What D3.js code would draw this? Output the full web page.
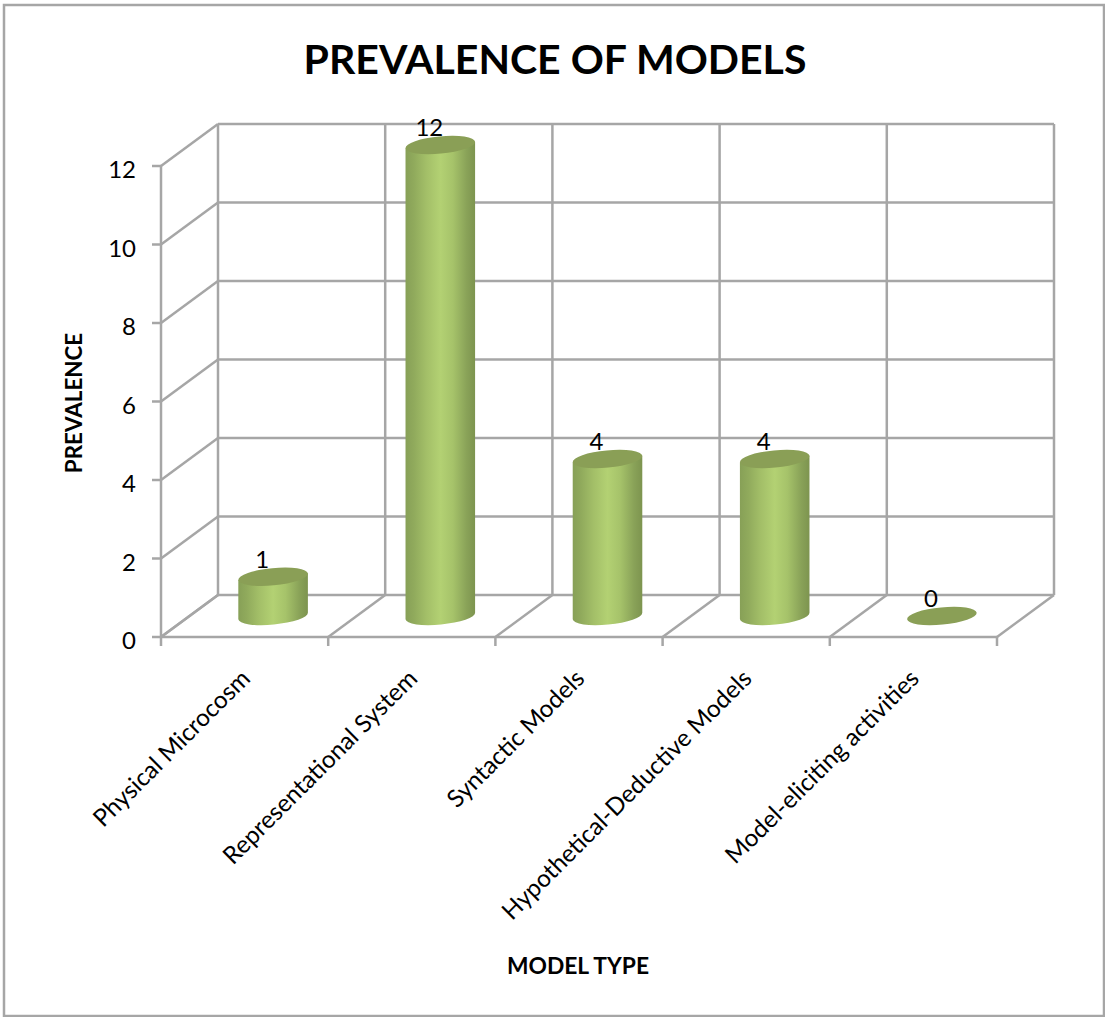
<!DOCTYPE html>
<html>
<head>
<meta charset="utf-8">
<style>
  html, body { margin: 0; padding: 0; background: #fff; }
  svg { display: block; }
  text { font-family: Lato, "Open Sans", sans-serif; fill: #000; }
</style>
<script src="https://cdn.jsdelivr.net/npm/d3@7/dist/d3.min.js"></script>
</head>
<body>
<svg id="chart" width="1105" height="1017"></svg>
<script>
const categories = ["Physical Microcosm", "Representational System", "Syntactic Models", "Hypothetical-Deductive Models", "Model-eliciting activities"];
const prevalence = [1, 12, 4, 4, 0];
const yTicks = [0, 2, 4, 6, 8, 10, 12];

const gridColor = "#a6a6a6";
const depth = { dx: 57, dy: -42 };
const svg = d3.select("#chart");

const x = d3.scaleBand().domain(categories).range([161, 997]).paddingInner(0).paddingOuter(0);
const y = d3.scaleLinear().domain([0, 12]).range([637, 166]);

// Chart frame
svg.append("rect").attr("x", 4).attr("y", 5).attr("width", 1100).attr("height", 1011)
  .attr("fill", "#fff").attr("stroke", gridColor).attr("stroke-width", 2.5);

const grid = svg.append("g").attr("stroke", gridColor).attr("stroke-width", 2.5).attr("fill", "none");
const line = (x1, y1, x2, y2) => grid.append("line").attr("x1", x1).attr("y1", y1).attr("x2", x2).attr("y2", y2);

// Back wall and left wall gridlines with their value ticks
yTicks.forEach(t => {
  line(x.range()[0] + depth.dx, y(t) + depth.dy, x.range()[1] + depth.dx, y(t) + depth.dy);
  line(x.range()[0], y(t), x.range()[0] + depth.dx, y(t) + depth.dy);
  line(x.range()[0] - 9, y(t), x.range()[0], y(t));
});

// Vertical lines on the back wall and depth lines across the floor
const xEdges = categories.map(c => x(c)).concat(x.range()[1]);
xEdges.forEach(e => {
  line(e + depth.dx, y(0) + depth.dy, e + depth.dx, y(12) + depth.dy);
  line(e, y(0), e + depth.dx, y(0) + depth.dy);
  line(e, y(0), e, y(0) + 9);
});
line(x.range()[0], y(0), x.range()[1], y(0));
line(x.range()[0], y(0), x.range()[0], y(12));

// Cylinder shading
const defs = svg.append("defs");
const body = defs.append("linearGradient").attr("id", "cylinderBody").attr("x1", 0).attr("x2", 1).attr("y1", 0).attr("y2", 0);
[[0, "#87a057"], [0.12, "#90aa5c"], [0.3, "#a3bf68"], [0.5, "#b3d173"], [0.68, "#a6c36a"], [0.88, "#89a258"], [1, "#7d944f"]]
  .forEach(([o, c]) => body.append("stop").attr("offset", o).attr("stop-color", c));

const rx = x.bandwidth() * 0.209;
const ry = 8.6;
const tilt = -5.5;
const rad = tilt * Math.PI / 180;
const floorDy = depth.dy / 2;
const barOffset = depth.dx / 2;
const endX = rx * Math.cos(rad), endY = rx * Math.sin(rad);

const bars = svg.append("g").selectAll("g").data(categories).join("g");

bars.each(function (c, i) {
  const g = d3.select(this);
  const v = prevalence[i];
  const cx = x(c) + x.bandwidth() / 2 + barOffset;
  const yBase = y(0) + floorDy;
  const yTop = y(v) + floorDy;
  if (v > 0) {
    g.append("path")
      .attr("d", `M${cx - endX},${yTop - endY} L${cx - endX},${yBase - endY} ` +
        `A${rx},${ry} ${tilt} 0 0 ${cx + endX},${yBase + endY} L${cx + endX},${yTop + endY} Z`)
      .attr("fill", "url(#cylinderBody)");
  }
  g.append("ellipse")
    .attr("rx", rx).attr("ry", ry)
    .attr("transform", `translate(${cx},${yTop}) rotate(${tilt})`)
    .attr("fill", "#8a9f56");
  g.append("text")
    .attr("x", cx - 11).attr("y", yTop - 9)
    .attr("text-anchor", "middle")
    .attr("font-size", 24)
    .text(v);
});

// Value axis labels
svg.append("g").selectAll("text").data(yTicks).join("text")
  .attr("x", 136).attr("y", d => y(d) + 12)
  .attr("text-anchor", "end")
  .attr("font-size", 24)
  .text(d => d);

// Rotated category labels, anchored under each category's centre
svg.append("g").selectAll("text").data(categories).join("text")
  .attr("text-anchor", "end")
  .attr("font-size", 24.3)
  .attr("transform", d => `translate(${x(d) + x.bandwidth() / 2 + 7},${y(0) + 43}) rotate(-45)`)
  .text(d => d);

svg.append("text").attr("x", 555).attr("y", 74).attr("text-anchor", "middle")
  .attr("font-size", 41).attr("font-weight", 700).text("PREVALENCE OF MODELS");

svg.append("text").attr("x", 578).attr("y", 974).attr("text-anchor", "middle")
  .attr("font-size", 22.8).attr("font-weight", 700).text("MODEL TYPE");

svg.append("text").attr("transform", "translate(82,403) rotate(-90)").attr("text-anchor", "middle")
  .attr("font-size", 22.4).attr("font-weight", 700).text("PREVALENCE");
</script>
</body>
</html>
